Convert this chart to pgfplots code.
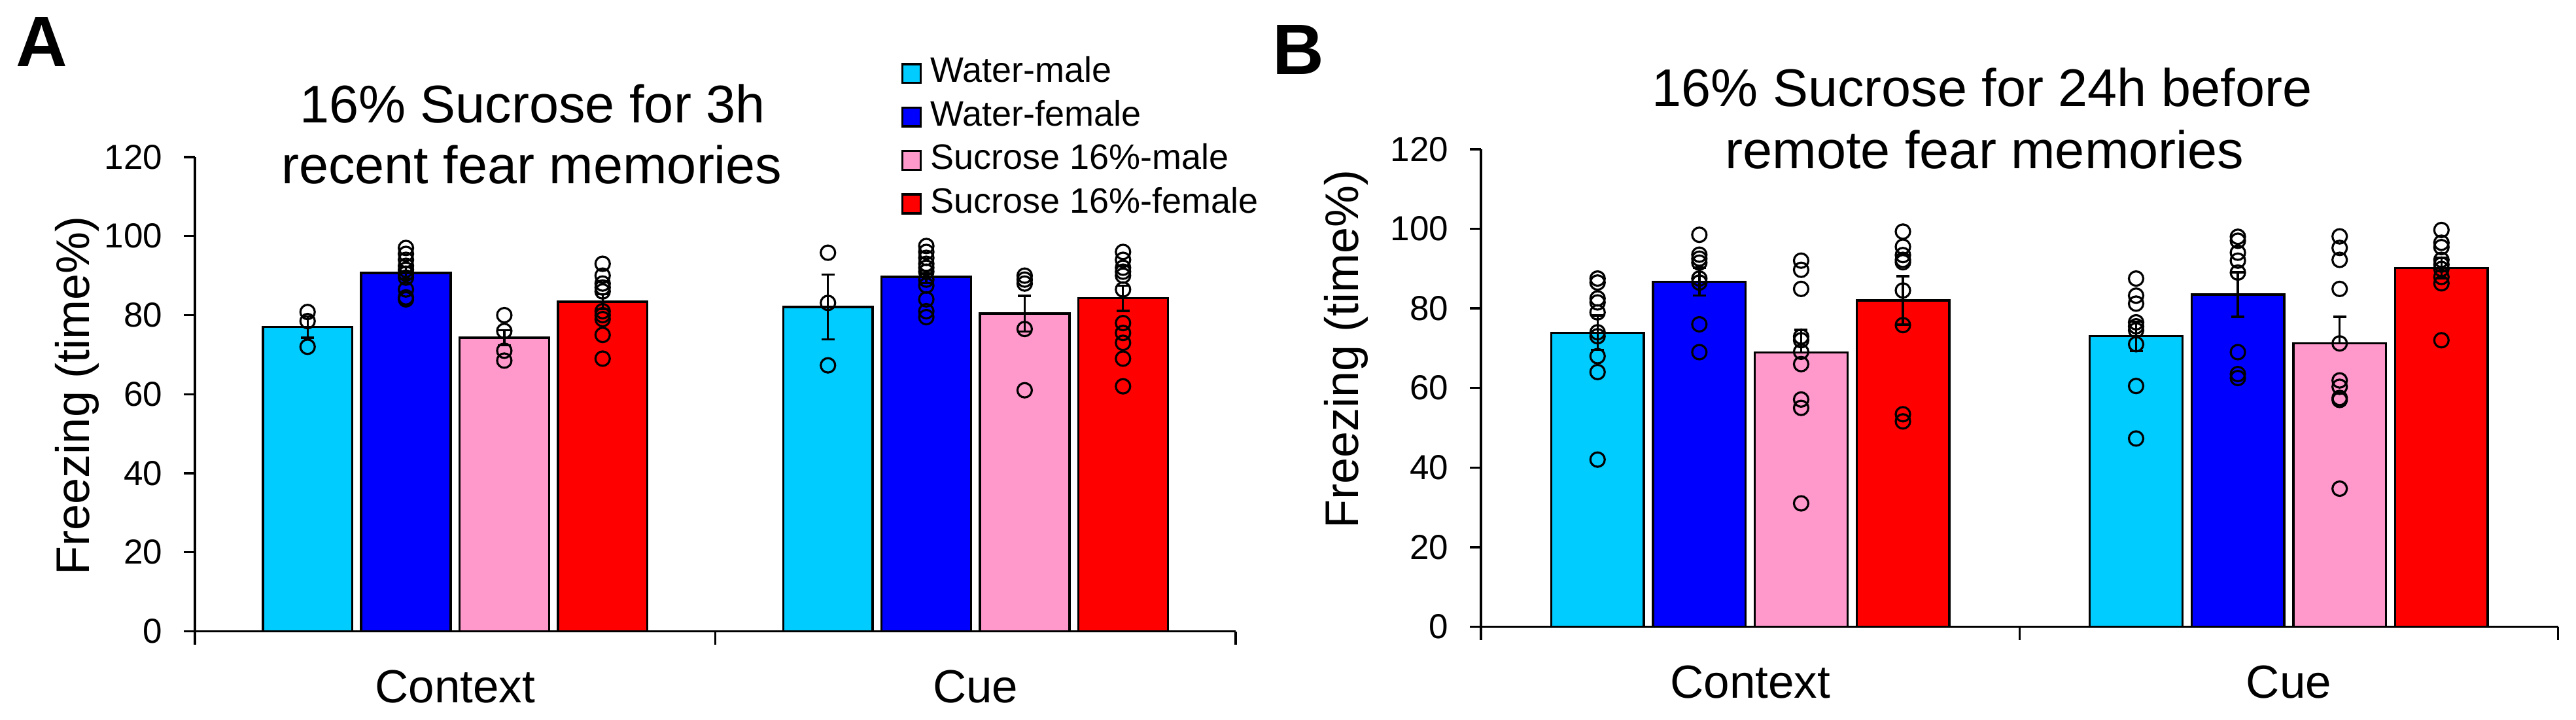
\documentclass[border=0pt]{standalone}
\usepackage{fontspec}
\setmainfont{Liberation Sans}
\usepackage{pgfplots}
\pgfplotsset{compat=1.18}
\definecolor{cwm}{HTML}{00CCFF}
\definecolor{cwf}{HTML}{0000FF}
\definecolor{csm}{HTML}{FF99CC}
\definecolor{csf}{HTML}{FF0000}
\pgfplotsset{
  panel/.style={
    scale only axis, xmin=0, xmax=2, ymin=0, ymax=120, clip=false,
    axis x line*=bottom, axis y line*=left,
    axis line style={line width=0.85bp, black},
    tick align=outside,
    ytick={0,20,...,120},
    xtick={0.5,1.5}, xticklabels={Context,Cue},
    minor xtick={0,1,2},
    major tick length=4.25bp, minor tick length=5bp,
    major x tick style={draw=none},
    tick style={black, line width=0.85bp},
    /pgf/number format/assume math mode=true,
    yticklabel style={font=\fontsize{13.25bp}{15bp}\selectfont, inner sep=0pt, anchor=east, xshift=-8bp},
    xticklabel style={font=\fontsize{17.75bp}{20bp}\selectfont, inner sep=0pt, anchor=north, yshift=-10.35bp},
    ylabel={Freezing (time\%)},
    legend image code/.code={\draw[#1] (0bp,-3.6bp) rectangle (7bp,3.6bp);},
  },
  barst/.style={ybar, bar width=0.172, bar shift=0pt, draw=black, line width=0.85bp},
  errst/.style={error bars/.cd, y explicit, error bar style={line width=0.85bp, black},
    error mark options={rotate=90, mark size=2.5bp, line width=0.85bp, black}},
  dotst/.style={only marks, mark=o, mark size=2.75bp, black, line width=0.8bp, forget plot},
}
\begin{document}
\begin{tikzpicture}
\path[use as bounding box] (0,0) rectangle (984.5bp,275bp);
% ---------------- Panel A ----------------
\begin{axis}[panel, at={(74.5bp,33.875bp)}, anchor=south west,
  width=397.75bp, height=181.125bp,
  every axis y label/.style={at={(axis description cs:-0.1012,0.4976)}, rotate=90, anchor=base,
    inner sep=0pt, font=\fontsize{18bp}{20bp}\selectfont},
  legend style={draw=none, fill=none, at={(axis description cs:0.6787,1.2109)}, anchor=north west,
    inner sep=0pt, outer sep=0pt, row sep=4bp, column sep=3.25bp,
    font=\fontsize{13.5bp}{15bp}\selectfont,
    nodes={inner sep=0pt, text height=9.7bp, text depth=2.9bp}},
  legend cell align=left]
\addplot[fill=cwm, barst, errst, y dir=both] coordinates {(0.2165,77.0) +- (0,2.7) (1.2165,82.1) +- (0,8.2)};
\addlegendentry{Water-male}
\addplot[fill=cwf, barst, errst, y dir=both] coordinates {(0.4055,90.7) +- (0,1.5) (1.4055,89.7) +- (0,1.6)};
\addlegendentry{Water-female}
\addplot[fill=csm, barst, errst, y dir=both] coordinates {(0.5945,74.3) +- (0,1.9) (1.5945,80.4) +- (0,4.5)};
\addlegendentry{Sucrose 16\%-male}
\addplot[fill=csf, barst, errst, y dir=both] coordinates {(0.7835,83.4) +- (0,1.9) (1.7835,84.3) +- (0,3.2)};
\addlegendentry{Sucrose 16\%-female}
% individual animals
\addplot[dotst] coordinates {(0.2165,80.8) (0.2165,78.5) (0.2165,72.0)};
\addplot[dotst] coordinates {(0.4055,97) (0.4055,95.5) (0.4055,94) (0.4055,92.5) (0.4055,91.5) (0.4055,90.5) (0.4055,89.5) (0.4055,86.5) (0.4055,84.5) (0.4055,84)};
\addplot[dotst] coordinates {(0.5945,80) (0.5945,76) (0.5945,71) (0.5945,68.5)};
\addplot[dotst] coordinates {(0.7835,93) (0.7835,90) (0.7835,88) (0.7835,87) (0.7835,86) (0.7835,81) (0.7835,80) (0.7835,79) (0.7835,75) (0.7835,69)};
\addplot[dotst] coordinates {(1.2165,95.8) (1.2165,83.1) (1.2165,67.3)};
\addplot[dotst] coordinates {(1.4055,97.5) (1.4055,96) (1.4055,94.5) (1.4055,93) (1.4055,92) (1.4055,91) (1.4055,89) (1.4055,87.5) (1.4055,84) (1.4055,81) (1.4055,79.5)};
\addplot[dotst] coordinates {(1.5945,90) (1.5945,89) (1.5945,88) (1.5945,76.5) (1.5945,61)};
\addplot[dotst] coordinates {(1.7835,96) (1.7835,94) (1.7835,92) (1.7835,91) (1.7835,90) (1.7835,86.5) (1.7835,78) (1.7835,75.5) (1.7835,73) (1.7835,69) (1.7835,62)};
\end{axis}
% ---------------- Panel B ----------------
\begin{axis}[panel, at={(566bp,35.625bp)}, anchor=south west,
  width=411.625bp, height=182.375bp,
  every axis y label/.style={at={(axis description cs:-0.1136,0.5819)}, rotate=90, anchor=base,
    inner sep=0pt, font=\fontsize{18bp}{20bp}\selectfont}]
\addplot[fill=cwm, barst, errst, y dir=both] coordinates {(0.2165,73.9) +- (0,4.3) (1.2165,73.0) +- (0,3.7)};
\addplot[fill=cwf, barst, errst, y dir=both] coordinates {(0.4055,86.7) +- (0,3.5) (1.4055,83.5) +- (0,5.6)};
\addplot[fill=csm, barst, errst, y dir=plus] coordinates {(0.5945,68.9) +- (0,5.7) (1.5945,71.2) +- (0,6.7)};
\addplot[fill=csf, barst, errst, y dir=both] coordinates {(0.7835,82.0) +- (0,6.1) (1.7835,90.1) +- (0,2.6)};
\addplot[dotst] coordinates {(0.2165,87.5) (0.2165,86.5) (0.2165,82.5) (0.2165,81.5) (0.2165,79) (0.2165,74) (0.2165,73) (0.2165,68) (0.2165,64) (0.2165,42)};
\addplot[dotst] coordinates {(0.4055,98.5) (0.4055,93.5) (0.4055,92.5) (0.4055,91.5) (0.4055,87.5) (0.4055,86.5) (0.4055,76) (0.4055,69)};
\addplot[dotst] coordinates {(0.5945,92) (0.5945,89.7) (0.5945,84.9) (0.5945,72.9) (0.5945,72) (0.5945,69.1) (0.5945,66) (0.5945,57.1) (0.5945,55) (0.5945,31)};
\addplot[dotst] coordinates {(0.7835,99.3) (0.7835,95.5) (0.7835,93.4) (0.7835,92.2) (0.7835,91.6) (0.7835,84.5) (0.7835,75.8) (0.7835,53.4) (0.7835,51.6)};
\addplot[dotst] coordinates {(1.2165,87.5) (1.2165,83.2) (1.2165,81.2) (1.2165,76.5) (1.2165,75.5) (1.2165,74.5) (1.2165,71) (1.2165,60.5) (1.2165,47.3)};
\addplot[dotst] coordinates {(1.4055,98) (1.4055,97) (1.4055,94) (1.4055,92) (1.4055,89) (1.4055,69) (1.4055,63.5) (1.4055,62.5)};
\addplot[dotst] coordinates {(1.5945,98.1) (1.5945,95.2) (1.5945,92.2) (1.5945,84.9) (1.5945,71.2) (1.5945,61.9) (1.5945,60.3) (1.5945,57.5) (1.5945,57) (1.5945,34.7)};
\addplot[dotst] coordinates {(1.7835,99.7) (1.7835,96.5) (1.7835,95.4) (1.7835,92.2) (1.7835,91) (1.7835,89.9) (1.7835,87.9) (1.7835,86.3) (1.7835,72)};
\end{axis}
% ---------------- Titles and panel letters ----------------
\node[anchor=base west, inner sep=0pt, font=\bfseries\fontsize{27.25bp}{30bp}\selectfont] at (6bp,249.5bp) {A};
\node[anchor=base west, inner sep=0pt, font=\bfseries\fontsize{27.25bp}{30bp}\selectfont] at (486.25bp,246.5bp) {B};
\node[anchor=base, inner sep=0pt, font=\fontsize{20.25bp}{24bp}\selectfont] at (203.5bp,228.1bp) {16\% Sucrose for 3h};
\node[anchor=base, inner sep=0pt, font=\fontsize{20.25bp}{24bp}\selectfont] at (203.25bp,204.85bp) {recent fear memories};
\node[anchor=base, inner sep=0pt, font=\fontsize{20.25bp}{24bp}\selectfont] at (757.5bp,234.25bp) {16\% Sucrose for 24h before};
\node[anchor=base, inner sep=0pt, font=\fontsize{20.25bp}{24bp}\selectfont] at (758.5bp,210.55bp) {remote fear memories};
\end{tikzpicture}
\end{document}
